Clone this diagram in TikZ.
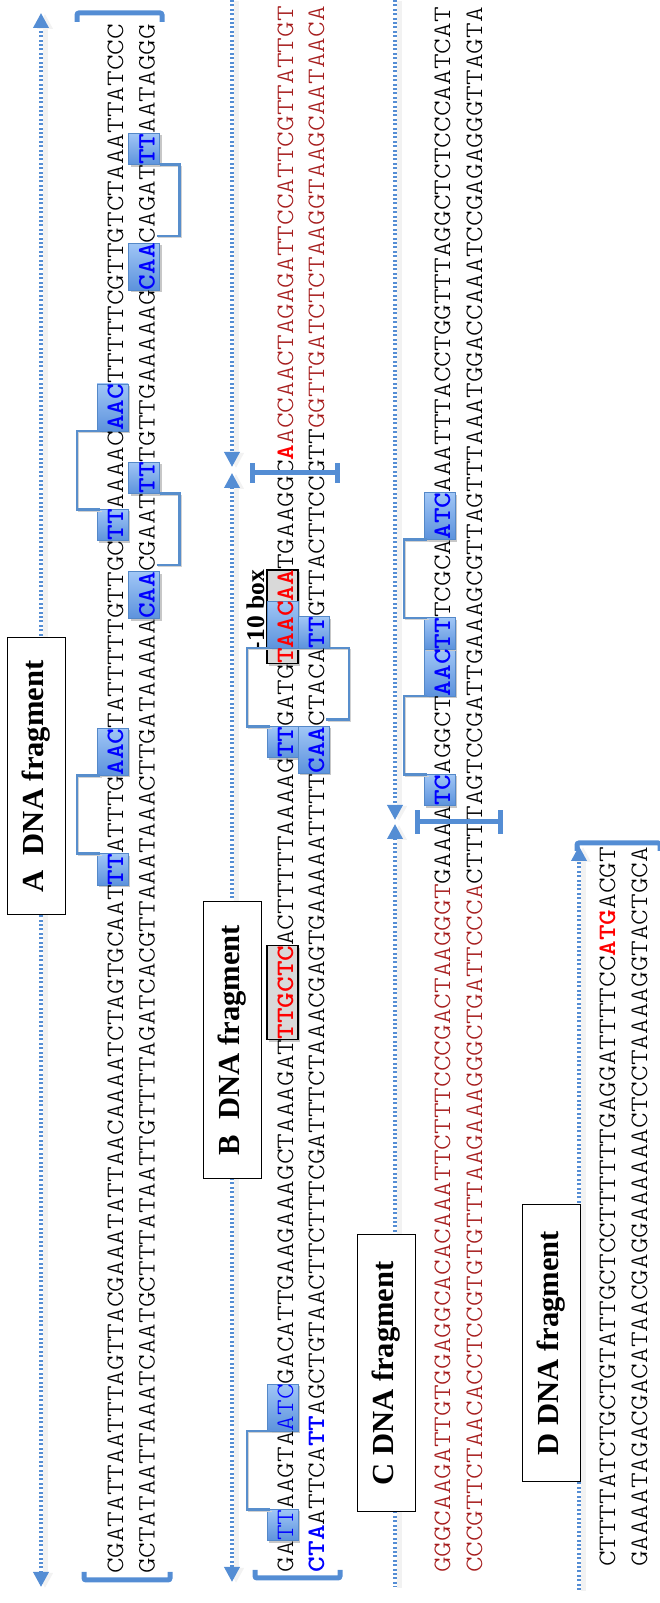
\documentclass[tikz,border=0pt]{standalone}
\usepackage{fontspec}
\setmainfont{Liberation Serif}
\newfontfamily\seqfont[BoldFont=lmmonolt10-bold.otf,FakeStretch=1.193]{lmmonolt10-regular.otf}
\usetikzlibrary{positioning,arrows.meta,backgrounds,calc}
\definecolor{dimblue}{RGB}{84,141,212}
\definecolor{brkblue}{RGB}{88,142,204}
\definecolor{hllight}{RGB}{160,198,246}
\definecolor{hldark}{RGB}{92,146,220}
\definecolor{hledge}{RGB}{84,136,200}
\definecolor{seqred}{RGB}{165,28,28}
\definecolor{boxgray}{RGB}{217,217,217}
\newcommand{\tikzSeqBox}[2]{
  \path[hlbox] (#1.south west) rectangle (#2.north east);
}
\newcommand{\tikzPromBox}[2]{
  \path[promobox] (#1.south west) rectangle (#2.north east);
}
\tikzset{
  seq/.style={anchor=base west,inner sep=0pt,outer sep=0pt,text height=26pt,text depth=5pt,
    font=\seqfont\fontsize{25}{30}\selectfont},
  seqbf/.style={seq,font=\seqfont\bfseries\fontsize{25}{30}\selectfont},
  plain/.style={seq,text=black},
  dred/.style={seq,text=seqred},
  hlb/.style={seqbf,text=blue},
  hlr/.style={seq,text=blue},
  redb/.style={seqbf,text=red},
  hlbox/.style={top color=hllight,bottom color=hldark,draw=hledge,line width=0.8pt,
    preaction={fill=black!22,transform canvas={shift={(2pt,-2pt)}}}},
  promobox/.style={fill=boxgray,draw=black,line width=1.3pt,
    preaction={fill=black!22,transform canvas={shift={(2pt,-2pt)}}}},
  brk/.style={draw=brkblue,line width=2.6pt,
    preaction={draw=black!18,transform canvas={shift={(1.5pt,-1.5pt)}}}},
  dim/.style={draw=dimblue,line width=3.5pt,dash pattern=on 2pt off 2.4pt,
    preaction={draw=black!5,line width=5pt,solid,transform canvas={shift={(4pt,-1pt)}}}},
  endbrk/.style={draw=dimblue,line width=5pt,rounded corners=2pt},
  fraglbl/.style={draw=black,line width=1pt,fill=white,minimum height=58pt,
    minimum width=277pt,inner sep=0pt,font=\bfseries\fontsize{30.6}{34}\selectfont},
  tenlbl/.style={inner sep=0pt,font=\bfseries\fontsize{25.5}{28}\selectfont}
}

\begin{document}
\begin{tikzpicture}[x=1pt,y=1pt,rotate=90,transform shape,
  >={Triangle[width=15pt,length=15pt]}]
\useasboundingbox (0,-660) rectangle (1603,0);

% dimension arrows
\coordinate (aTop) at (1590,-41);
\coordinate (aBot) at (16,-41);
\draw[dim,<->] (aBot) -- (aTop);
\coordinate (bTop) at (1603,-232);
\coordinate (bCutU) at (1136,-232);
\coordinate (bCutL) at (1130,-232);
\coordinate (bBot) at (21,-232);
\draw[dim,->] (bTop) -- (bCutU);
\draw[dim,<->] (bCutL) -- (bBot);
\coordinate (cTop) at (1603,-395);
\coordinate (cCutU) at (783,-395);
\coordinate (cCutL) at (779,-395);
\coordinate (cBot) at (16,-395);
\draw[dim,->] (cTop) -- (cCutU);
\draw[dim,<-] (cCutL) -- (cBot);
\coordinate (dTop) at (757,-579);
\coordinate (dBot) at (13,-579);
\draw[dim,->] (dBot) -- (dTop);

% fragment labels
\node[fraglbl] (alab) at (826.5,-36) {A\ \ DNA fragment};
\node[fraglbl] (blab) at (563,-232) {B\ \ DNA fragment};
\node[fraglbl] (clab) at (229.5,-386.5) {C DNA fragment};
\node[fraglbl] (dlab) at (260,-551) {D DNA fragment};

% fragment A
\node[plain] (a1a) at (29,-123) {CGATATTAATTTAGTTACGAAATATTAACAAAATCTAGTGCAAT};
\node[hlb,base right=0pt of a1a] (a1b) {TT};
\node[plain,base right=0pt of a1b] (a1c) {ATTTG};
\node[hlb,base right=0pt of a1c] (a1d) {AAC};
\node[plain,base right=0pt of a1d] (a1e) {TATTTTTGTTGC};
\node[hlb,base right=0pt of a1e] (a1f) {TT};
\node[plain,base right=0pt of a1f] (a1g) {AAAAC};
\node[hlb,base right=0pt of a1g] (a1h) {AAC};
\node[plain,base right=0pt of a1h] (a1i) {TTTTTCGTTGTCTAAATTATCCC};

\node[plain] (a2a) at (29,-154.5) {GCTATAATTAAATCAATGCTTTATAATTGTTTTAGATCACGTTAAATAAACTTGATAAAAA};
\node[hlb,base right=0pt of a2a] (a2b) {CAA};
\node[plain,base right=0pt of a2b] (a2c) {CGAAT};
\node[hlb,base right=0pt of a2c] (a2d) {TT};
\node[plain,base right=0pt of a2d] (a2e) {TGTTGAAAAAG};
\node[hlb,base right=0pt of a2e] (a2f) {CAA};
\node[plain,base right=0pt of a2f] (a2g) {CAGAT};
\node[hlb,base right=0pt of a2g] (a2h) {TT};
\node[plain,base right=0pt of a2h] (a2i) {AATAGGG};

% fragment B
\node[plain] (b1a) at (31,-293) {GA};
\node[hlr,base right=0pt of b1a] (b1b) {TT};
\node[plain,base right=0pt of b1b] (b1c) {AAGTA};
\node[hlr,base right=0pt of b1c] (b1d) {ATC};
\node[plain,base right=0pt of b1d] (b1e) {GACATTGAAGAAAGCTAAAGAT};
\node[redb,base right=0pt of b1e] (b1f) {TTGCTC};
\node[plain,base right=0pt of b1f] (b1g) {ACTTTTTAAAAG};
\node[hlb,base right=0pt of b1g] (b1h) {TT};
\node[plain,base right=0pt of b1h] (b1i) {GATG};
\node[redb,base right=0pt of b1i] (b1j) {T};
\node[redb,base right=0pt of b1j] (b1k) {AAC};
\node[redb,base right=0pt of b1k] (b1l) {AA};
\node[plain,base right=0pt of b1l] (b1m) {TGAAGGC};
\node[redb,base right=0pt of b1m] (b1n) {A};
\node[dred,base right=0pt of b1n] (b1o) {ACCAACTAGAGATTCCATTCGTTATTGT};

\node[hlb] (b2a) at (31,-324) {CTA};
\node[plain,base right=0pt of b2a] (b2b) {ATTCA};
\node[hlb,base right=0pt of b2b] (b2c) {TT};
\node[plain,base right=0pt of b2c] (b2d) {AGCTGTAACTTCTTTCGATTTCTAAACGAGTGAAAAATTTT};
\node[hlb,base right=0pt of b2d] (b2e) {CAA};
\node[plain,base right=0pt of b2e] (b2f) {CTACA};
\node[hlb,base right=0pt of b2f] (b2g) {TT};
\node[plain,base right=0pt of b2g] (b2h) {GTTACTTCCGTT};
\node[dred,base right=0pt of b2h] (b2i) {GGTTGATCTCTAAGGTAAGCAATAACA};

\node[tenlbl,anchor=base east] (tenbox) at ($(b1l.north east)+(0,3)$) {-10 box};

% fragment C
\node[dred] (c1a) at (30,-450) {GGGCAAGATTGTGGAGGCACACAAATTCTTTCCCGACTAAGGGT};
\node[plain,base right=0pt of c1a] (c1b) {GAAAA};
\node[hlb,base right=0pt of c1b] (c1c) {TC};
\node[plain,base right=0pt of c1c] (c1d) {AGGCT};
\node[hlb,base right=0pt of c1d] (c1e) {AAC};
\node[hlb,base right=0pt of c1e] (c1f) {TT};
\node[plain,base right=0pt of c1f] (c1g) {TCGCA};
\node[hlb,base right=0pt of c1g] (c1h) {ATC};
\node[plain,base right=0pt of c1h] (c1i) {AAATTTACCTGGTTTAGGCTCTCCCAATCAT};

\node[dred] (c2a) at (30,-482) {CCCGTTCTAACACCTCCGTGTGTTTAAGAAAGGGCTGATTCCCA};
\node[plain,base right=0pt of c2a] (c2b) {CTTTTAGTCCGATTGAAAGCGTTAGTTTAAATGGACCAAATCCGAGAGGGTTAGTA};

% fragment D
\node[plain] (d1a) at (36,-615) {CTTTTATCTGCTGTATTGCTCCTTTTTTGAGGATTTTCC};
\node[redb,base right=0pt of d1a] (d1b) {ATG};
\node[plain,base right=0pt of d1b] (d1c) {ACGT};
\node[plain] (d2a) at (36,-647) {GAAAATAGACGACATAACGAGGAAAAAACTCCTAAAAGGTACTGCA};

% boxes behind the bases
\begin{pgfonlayer}{background}
  \tikzSeqBox{a1b}{a1b} \tikzSeqBox{a1d}{a1d} \tikzSeqBox{a1f}{a1f} \tikzSeqBox{a1h}{a1h}
  \tikzSeqBox{a2b}{a2b} \tikzSeqBox{a2d}{a2d} \tikzSeqBox{a2f}{a2f} \tikzSeqBox{a2h}{a2h}
  \tikzSeqBox{b1b}{b1b} \tikzSeqBox{b1d}{b1d} \tikzSeqBox{b1h}{b1h}
  \tikzPromBox{b1f}{b1f}
  \tikzPromBox{b1j}{b1l}
  \tikzSeqBox{b1k}{b1k}
  \tikzSeqBox{b2e}{b2e} \tikzSeqBox{b2g}{b2g}
  \tikzSeqBox{c1c}{c1c} \tikzSeqBox{c1e}{c1e} \tikzSeqBox{c1f}{c1f} \tikzSeqBox{c1h}{c1h}
\end{pgfonlayer}

% brackets joining the boxes
\draw[brk] ($(a1b.north east)+(0,-3)$) -- ++(0,23) -- ($(a1d.north west)+(0,20)$) -- ++(0,-23);
\draw[brk] ($(a1f.north east)+(0,-3)$) -- ++(0,23) -- ($(a1h.north west)+(0,20)$) -- ++(0,-23);
\draw[brk] ($(a2b.south east)+(7,3)$) -- ++(0,-23) -- ($(a2d.south west)+(0,-20)$) -- (a2d.south west);
\draw[brk] ($(a2f.south east)+(7,3)$) -- ++(0,-23) -- ($(a2h.south west)+(0,-20)$) -- (a2h.south west);
\draw[brk] ($(b1b.north east)+(0,-3)$) -- ++(0,23) -- ($(b1d.north west)+(0,20)$) -- ++(0,-23);
\draw[brk] ($(b1h.north east)+(0,-3)$) -- ++(0,23) -- ($(b1k.north west)+(0,20)$) -- ++(0,-23);
\draw[brk] ($(b2e.south east)+(7,3)$) -- ++(0,-23) -- ($(b2g.south west)+(0,-20)$) -- (b2g.south west);
\draw[brk] ($(c1c.north east)+(0,-3)$) -- ++(0,23) -- ($(c1e.north west)+(0,20)$) -- ++(0,-23);
\draw[brk] ($(c1f.north east)+(0,-3)$) -- ++(0,23) -- ($(c1h.north west)+(0,20)$) -- ++(0,-23);

% fragment ends and cut marks
\draw[endbrk] (1581,-77) -- (1590,-77) -- (1590,-162) -- (1581,-162);
\draw[endbrk] (31,-84) -- (23,-84) -- (23,-170) -- (31,-170);
\draw[endbrk] (33,-255) -- (25,-255) -- (25,-340) -- (33,-340);
\draw[endbrk] (752,-577) -- (760,-577) -- (760,-660) -- (752,-660);
\draw[endbrk,rounded corners=0pt] (1130,-252) -- (1130,-337)
  (1120,-252) -- (1140,-252) (1120,-337) -- (1140,-337);
\draw[endbrk,rounded corners=0pt] (781,-417) -- (781,-500)
  (769,-417) -- (793,-417) (769,-500) -- (793,-500);

\end{tikzpicture}
\end{document}
